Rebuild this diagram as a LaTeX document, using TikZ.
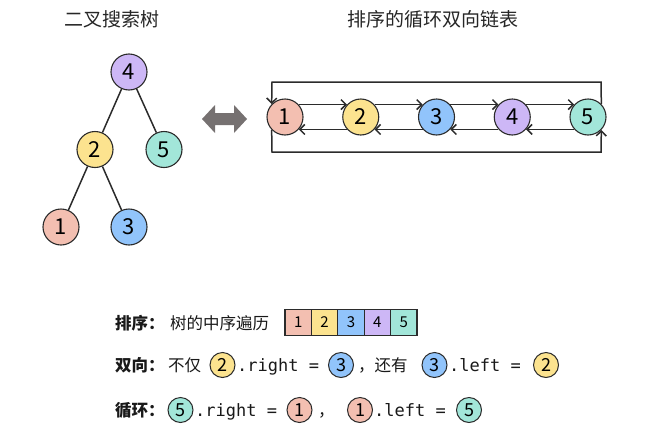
\documentclass[tikz,border=0pt]{standalone}
\usepackage{fontspec}
\setmainfont{Noto Sans CJK SC}
\newfontfamily\codefont{DejaVu Sans Mono}
\usetikzlibrary{arrows.meta}
\definecolor{cA}{HTML}{F3BFB1}
\definecolor{cB}{HTML}{FCE38F}
\definecolor{cC}{HTML}{91C4FB}
\definecolor{cD}{HTML}{CDB7F6}
\definecolor{cE}{HTML}{A2E6D9}
\definecolor{edgecol}{HTML}{2B2B2B}
\definecolor{bigarrow}{HTML}{767171}
\begin{document}
\begin{tikzpicture}[x=1pt,y=-1pt,
  bignode/.style={circle,draw=edgecol,line width=1.1pt,minimum size=36pt,inner sep=0pt,font=\fontsize{22}{22}\selectfont},
  smallnode/.style={circle,draw=edgecol,line width=1pt,minimum size=25pt,inner sep=0pt,font=\fontsize{18}{18}\selectfont},
  cellbox/.style={draw=edgecol,line width=1.1pt,minimum width=26.4pt,minimum height=26pt,inner sep=0pt,font=\fontsize{15}{15}\selectfont},
  treeedge/.style={line width=1.5pt,draw=edgecol},
  link/.style={line width=1.5pt,draw=edgecol,-{Straight Barb[length=5pt,width=10pt,line width=1.5pt]}},
  title/.style={inner sep=0pt,anchor=base,font=\fontsize{19}{19}\selectfont,text=black!85},
  txt/.style={inner sep=0pt,anchor=base west,font=\fontsize{16.5}{16.5}\selectfont,text=black!90},
  btxt/.style={txt,font=\fontsize{16.5}{16.5}\selectfont\bfseries},
  code/.style={inner sep=0pt,anchor=base west,font=\fontsize{17}{17}\selectfont\codefont,text=black!90}]
\useasboundingbox (0,0) rectangle (660,434);

% titles
\node[title] (t1) at (112,26) {二叉搜索树};
\node[title] (t2) at (433,26) {排序的循环双向链表};

% tree
\node[bignode,fill=cD] (n4) at (129,72) {4};
\node[bignode,fill=cB] (n2) at (95,149.5) {2};
\node[bignode,fill=cE] (n5) at (164,149.5) {5};
\node[bignode,fill=cA] (n1) at (61,227) {1};
\node[bignode,fill=cC] (n3) at (129,227) {3};
\draw[treeedge] (n4) -- (n2);
\draw[treeedge] (n4) -- (n5);
\draw[treeedge] (n2) -- (n1);
\draw[treeedge] (n2) -- (n3);

% big double arrow
\fill[bigarrow] (202,119) -- (215,105) -- (215,113) -- (234,113) -- (234,105) -- (247,119)
  -- (234,133) -- (234,125) -- (215,125) -- (215,133) -- cycle;

% list
\node[bignode,fill=cA] (l1) at (285,117) {1};
\node[bignode,fill=cB] (l2) at (360.75,117) {2};
\node[bignode,fill=cC] (l3) at (436.5,117) {3};
\node[bignode,fill=cD] (l4) at (512.25,117) {4};
\node[bignode,fill=cE] (l5) at (588,117) {5};
\foreach \a/\b in {l1/l2,l2/l3,l3/l4,l4/l5}{
  \draw[link] (\a.42) -- (\b.138);
  \draw[link] (\b.222) -- (\a.318);
}
\coordinate (tl) at (272,82);
\coordinate (tr) at (601,82);
\coordinate (bl) at (272,152);
\coordinate (br) at (601,152);
\draw[link] (l5.44) -- (tr) -- (tl) -- (l1.136);
\draw[link] (l1.224) -- (bl) -- (br) -- (l5.316);

% line 1
\node[btxt] (s1) at (115,329) {排序：};
\node[txt] (s1b) at (170,329) {树的中序遍历};
\foreach \i/\c in {1/cA,2/cB,3/cC,4/cD,5/cE}{
  \node[cellbox,fill=\c] (c\i) at (285+26.4*\i-13.2,322.5) {\i};
}

% line 2
\node[btxt] (s2) at (115,371) {双向：};
\node[txt] (s2b) at (168,371) {不仅};
\node[smallnode,fill=cB] (a2) at (222.5,365) {2};
\node[code] (r2) at (237,371) {.right =};
\node[smallnode,fill=cC] (a3) at (341,365) {3};
\node[txt] (s2c) at (358,371) {，还有};
\node[smallnode,fill=cC] (a3b) at (434.5,365) {3};
\node[code] (r3) at (449,371) {.left =};
\node[smallnode,fill=cB] (a2b) at (546,365) {2};

% line 3
\node[btxt] (s3) at (115,416) {循环：};
\node[smallnode,fill=cE] (b5) at (180.5,410) {5};
\node[code] (r5) at (195,416) {.right =};
\node[smallnode,fill=cA] (b1) at (299.5,410) {1};
\node[txt] (s3c) at (318,416) {，};
\node[smallnode,fill=cA] (b1b) at (360,410) {1};
\node[code] (r1) at (374,416) {.left =};
\node[smallnode,fill=cE] (b5b) at (469,410) {5};
\end{tikzpicture}
\end{document}
